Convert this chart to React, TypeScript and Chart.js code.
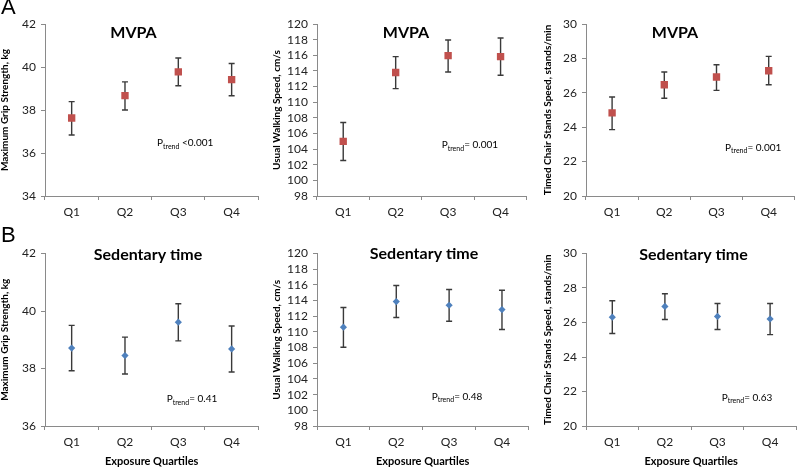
import React, { useEffect, useRef } from 'react';
import { Chart, registerables } from 'chart.js';

Chart.register(...registerables);

// ---------- data ----------
const quartiles = ['Q1', 'Q2', 'Q3', 'Q4'];

const mvpaGripMean = [37.63, 38.67, 39.77, 39.41];
const mvpaGripLow = [36.84, 38.0, 39.13, 38.66];
const mvpaGripHigh = [38.39, 39.31, 40.42, 40.16];

const mvpaWalkMean = [104.98, 113.79, 115.96, 115.83];
const mvpaWalkLow = [102.55, 111.74, 113.87, 113.45];
const mvpaWalkHigh = [107.4, 115.83, 117.96, 118.21];

const mvpaChairMean = [24.83, 26.47, 26.92, 27.28];
const mvpaChairLow = [23.86, 25.68, 26.14, 26.47];
const mvpaChairHigh = [25.76, 27.21, 27.63, 28.12];

const sedGripMean = [38.71, 38.45, 39.61, 38.68];
const sedGripLow = [37.92, 37.81, 38.96, 37.88];
const sedGripHigh = [39.5, 39.09, 40.25, 39.48];

const sedWalkMean = [110.6, 113.87, 113.4, 112.85];
const sedWalkLow = [108.04, 111.83, 111.36, 110.3];
const sedWalkHigh = [113.11, 115.91, 115.4, 115.32];

const sedChairMean = [26.31, 26.93, 26.35, 26.21];
const sedChairLow = [25.36, 26.17, 25.59, 25.3];
const sedChairHigh = [27.26, 27.67, 27.1, 27.1];

const gripRangeTop = [34, 42];
const gripRangeBottom = [36, 42];
const walkRange = [98, 120];
const chairRange = [20, 30];
const tickStep = 2;

const pTrendValues = [' <0.001', '= 0.001', '= 0.001', '= 0.41', '= 0.48', '= 0.63'];
const rowTitles = ['MVPA', 'Sedentary time'];
const yTitles = ['Maximum Grip Strength, kg', 'Usual Walking Speed, cm/s', 'Timed Chair Stands Speed, stands/min'];
const xTitle = 'Exposure Quartiles';

// ---------- plugins ----------
const errorBarPlugin = {
  id: 'errorBars',
  beforeDatasetsDraw(chart: any) {
    const ctx = chart.ctx;
    const ys = chart.scales.y;
    chart.data.datasets.forEach((ds: any, i: number) => {
      const meta = chart.getDatasetMeta(i);
      ctx.save();
      ctx.strokeStyle = '#3a3a3a';
      ctx.lineWidth = 1.4;
      meta.data.forEach((pt: any, j: number) => {
        const x = pt.x;
        const y1 = ys.getPixelForValue(ds.errLow[j]);
        const y2 = ys.getPixelForValue(ds.errHigh[j]);
        ctx.beginPath();
        ctx.moveTo(x, y1);
        ctx.lineTo(x, y2);
        ctx.moveTo(x - 3, y1);
        ctx.lineTo(x + 3, y1);
        ctx.moveTo(x - 3, y2);
        ctx.lineTo(x + 3, y2);
        ctx.stroke();
      });
      ctx.restore();
    });
  },
};

const textPlugin = {
  id: 'panelText',
  afterDraw(chart: any, _args: any, opts: any) {
    const ctx = chart.ctx;
    ctx.save();
    if (opts.title) {
      ctx.font = 'bold 16px Lato';
      ctx.fillStyle = '#000';
      ctx.textAlign = 'center';
      ctx.textBaseline = 'middle';
      ctx.fillText(opts.title.text, opts.title.x, opts.title.y);
    }
    if (opts.ptrend) {
      const { x, y, value } = opts.ptrend;
      ctx.textAlign = 'left';
      ctx.textBaseline = 'alphabetic';
      ctx.fillStyle = '#000';
      ctx.font = '10px Lato';
      ctx.fillText('P', x, y);
      let cx = x + ctx.measureText('P').width;
      ctx.font = '7px Lato';
      ctx.fillText('trend', cx, y + 2.5);
      cx += ctx.measureText('trend').width;
      ctx.font = '10px Lato';
      ctx.fillText(value, cx, y);
    }
    ctx.restore();
  },
};

// ---------- panels ----------
type PanelCfg = {
  left: number; top: number; w: number; h: number;
  yAxisW: number; padRight: number; padTop: number; xAxisH: number;
  yTitle: string; yTitlePad: number; showXTitle: boolean;
  range: number[]; mean: number[]; low: number[]; high: number[];
  marker: string; color: string; radius: number;
  title: { text: string; x: number; y: number };
  ptrend: { x: number; y: number; value: string };
};

function Panel({ cfg }: { cfg: PanelCfg }) {
  const ref = useRef<HTMLCanvasElement>(null);
  useEffect(() => {
    const font = { family: 'Lato', size: 12 };
    const chart = new Chart(ref.current as HTMLCanvasElement, {
      type: 'line',
      data: {
        labels: quartiles,
        datasets: [
          {
            data: cfg.mean,
            errLow: cfg.low,
            errHigh: cfg.high,
            showLine: false,
            pointStyle: cfg.marker,
            pointRadius: cfg.radius,
            pointHoverRadius: cfg.radius,
            pointBackgroundColor: cfg.color,
            pointBorderColor: cfg.color,
            pointBorderWidth: 0,
          } as any,
        ],
      },
      options: {
        responsive: false,
        animation: false,
        devicePixelRatio: 1,
        events: [],
        layout: { padding: { top: cfg.padTop, right: cfg.padRight, bottom: 0, left: 0 } },
        plugins: {
          legend: { display: false },
          tooltip: { enabled: false },
          title: { display: false },
          panelText: { title: cfg.title, ptrend: cfg.ptrend },
        } as any,
        scales: {
          x: {
            type: 'category',
            offset: true,
            grid: { display: true, offset: true, drawOnChartArea: false, drawTicks: true, tickLength: 4, color: '#8a8a8a' },
            border: { display: true, color: '#8a8a8a', width: 1 },
            ticks: { color: '#222', font, padding: 5, maxRotation: 0, autoSkip: false },
            title: {
              display: cfg.showXTitle,
              text: xTitle,
              color: '#000',
              font: { family: 'Lato', size: 11, weight: 'bold', lineHeight: 1 },
              padding: { top: 0, bottom: 2 },
            },
            afterFit: (s: any) => { s.height = cfg.xAxisH; },
          },
          y: {
            type: 'linear',
            min: cfg.range[0],
            max: cfg.range[1],
            grid: { display: true, drawOnChartArea: false, drawTicks: true, tickLength: 4, color: '#8a8a8a' },
            border: { display: true, color: '#8a8a8a', width: 1 },
            ticks: { stepSize: tickStep, color: '#222', font, padding: 5, autoSkip: false },
            title: {
              display: true,
              text: cfg.yTitle,
              color: '#000',
              font: { family: 'Lato', size: 10, weight: 'bold', lineHeight: 1 },
              padding: { top: cfg.yTitlePad, bottom: 0 },
            },
            afterFit: (s: any) => { s.width = cfg.yAxisW; },
          },
        },
      },
      plugins: [errorBarPlugin, textPlugin],
    } as any);
    return () => chart.destroy();
  }, []);
  return (
    <canvas
      ref={ref}
      width={cfg.w}
      height={cfg.h}
      style={{ position: 'absolute', left: cfg.left, top: cfg.top, width: cfg.w, height: cfg.h }}
    />
  );
}

const cols = [
  { left: 0, w: 265, yAxisW: 45, padRight: 6.7, yTitlePad: 0 },
  { left: 265, w: 267, yAxisW: 52, padRight: 2, yTitlePad: 6.5 },
  { left: 532, w: 268, yAxisW: 54, padRight: 1, yTitlePad: 10.5 },
];
const rows = [
  { top: 0, h: 230, padTop: 24, xAxisH: 34, showXTitle: false },
  { top: 230, h: 239, padTop: 23.5, xAxisH: 43, showXTitle: true },
];

const RED = '#C0504D';
const BLUE = '#4F81BD';

const panels: PanelCfg[] = [
  { ...cols[0], ...rows[0], yTitle: yTitles[0], range: gripRangeTop, mean: mvpaGripMean, low: mvpaGripLow, high: mvpaGripHigh,
    marker: 'rect', color: RED, radius: 5.2, title: { text: rowTitles[0], x: 133.5, y: 33 }, ptrend: { x: 157, y: 146, value: pTrendValues[0] } },
  { ...cols[1], ...rows[0], yTitle: yTitles[1], range: walkRange, mean: mvpaWalkMean, low: mvpaWalkLow, high: mvpaWalkHigh,
    marker: 'rect', color: RED, radius: 5.2, title: { text: rowTitles[0], x: 141, y: 33 }, ptrend: { x: 176.7, y: 148, value: pTrendValues[1] } },
  { ...cols[2], ...rows[0], yTitle: yTitles[2], range: chairRange, mean: mvpaChairMean, low: mvpaChairLow, high: mvpaChairHigh,
    marker: 'rect', color: RED, radius: 5.2, title: { text: rowTitles[0], x: 143, y: 33 }, ptrend: { x: 193, y: 150.5, value: pTrendValues[2] } },
  { ...cols[0], ...rows[1], yTitle: yTitles[0], range: gripRangeBottom, mean: sedGripMean, low: sedGripLow, high: sedGripHigh,
    marker: 'rectRot', color: BLUE, radius: 3.6, title: { text: rowTitles[1], x: 148, y: 25 }, ptrend: { x: 166.7, y: 172, value: pTrendValues[3] } },
  { ...cols[1], ...rows[1], yTitle: yTitles[1], range: walkRange, mean: sedWalkMean, low: sedWalkLow, high: sedWalkHigh,
    marker: 'rectRot', color: BLUE, radius: 3.6, title: { text: rowTitles[1], x: 159, y: 24 }, ptrend: { x: 166.7, y: 169.5, value: pTrendValues[4] } },
  { ...cols[2], ...rows[1], yTitle: yTitles[2], range: chairRange, mean: sedChairMean, low: sedChairLow, high: sedChairHigh,
    marker: 'rectRot', color: BLUE, radius: 3.6, title: { text: rowTitles[1], x: 161.5, y: 25 }, ptrend: { x: 189.7, y: 170.5, value: pTrendValues[5] } },
];

const letterStyle: React.CSSProperties = {
  position: 'absolute',
  left: 1,
  fontFamily: '"Liberation Sans", Arial, sans-serif',
  fontSize: 22,
  lineHeight: '22px',
  color: '#000',
};

export default function App() {
  return (
    <div style={{ position: 'absolute', left: 0, top: 0, width: 800, height: 469, background: '#fff', overflow: 'hidden' }}>
      {panels.map((p, i) => (
        <Panel key={i} cfg={p} />
      ))}
      <div style={{ ...letterStyle, top: -3.6 }}>A</div>
      <div style={{ ...letterStyle, top: 224.4 }}>B</div>
    </div>
  );
}
